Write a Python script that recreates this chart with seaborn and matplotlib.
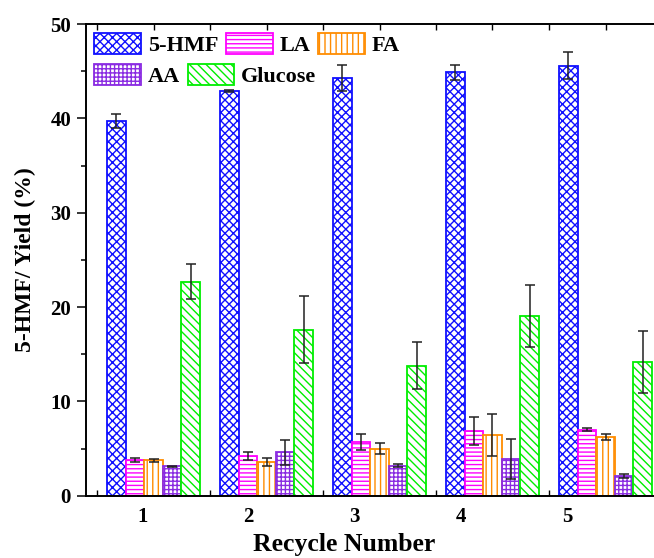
import numpy as np
import pandas as pd
import matplotlib
matplotlib.use("Agg")
import matplotlib.pyplot as plt
from matplotlib.ticker import MultipleLocator, FixedLocator
import seaborn as sns

# Recycle runs and product yields (%)
cycles = ["1", "2", "3", "4", "5"]
compounds = ["5-HMF", "LA", "FA", "AA", "Glucose"]

hmf = [39.7, 42.9, 44.3, 44.9, 45.6]
la = [3.8, 4.2, 5.7, 6.9, 7.0]
fa = [3.75, 3.55, 5.0, 6.45, 6.2]
aa = [3.1, 4.6, 3.2, 3.9, 2.1]
glucose = [22.7, 17.6, 13.8, 19.05, 14.2]

hmf_err = [0.72, 0.15, 1.4, 0.8, 1.4]
la_err = [0.23, 0.46, 0.88, 1.48, 0.18]
fa_err = [0.15, 0.45, 0.62, 2.2, 0.34]
aa_err = [0.05, 1.35, 0.15, 2.1, 0.25]
glucose_err = [1.85, 3.55, 2.5, 3.25, 3.3]

colors = ["#1010ff", "#ff00ff", "#ff8c00", "#8a2be2", "#00ee00"]
hatches = ["xxxx", "----", "|||", "++++", "\\\\\\\\"]

values = [hmf, la, fa, aa, glucose]
errors = [hmf_err, la_err, fa_err, aa_err, glucose_err]

df = pd.DataFrame({
    "Recycle Number": np.tile(cycles, len(compounds)),
    "Compound": np.repeat(compounds, len(cycles)),
    "Yield": np.concatenate(values),
    "Err": np.concatenate(errors),
})

sns.set_style("ticks")
plt.rcParams["font.family"] = ["Liberation Serif", "DejaVu Serif"]
plt.rcParams["font.weight"] = "bold"
plt.rcParams["hatch.linewidth"] = 1.0
for key in ["text.color", "axes.labelcolor", "xtick.color", "ytick.color",
            "axes.edgecolor"]:
    plt.rcParams[key] = "black"

W, H = 654, 558
fig = plt.figure(figsize=(W / 100, H / 100), dpi=100)
ax = fig.add_axes([85.7 / W, (H - 495.7) / H, (662 - 85.7) / W, (495.7 - 24) / H])

sns.barplot(data=df, x="Recycle Number", y="Yield", hue="Compound",
            hue_order=compounds, palette=colors, width=0.82,
            errorbar=None, legend=False, ax=ax, zorder=2)

for cont, col, hat, name in zip(ax.containers, colors, hatches, compounds):
    sub = df[df["Compound"] == name]
    xs, ys = [], []
    for bar in cont.patches:
        bar.set_facecolor("white")
        bar.set_edgecolor(col)
        bar.set_hatch(hat)
        bar.set_linewidth(1.3)
        xs.append(bar.get_x() + bar.get_width() / 2)
        ys.append(bar.get_height())
    ax.errorbar(xs, ys, yerr=sub["Err"].values, fmt="none", ecolor="#222222",
                elinewidth=1.1, capsize=3.6, capthick=1.1, zorder=4)

ax.set_xlim(-0.60, 4.50)
ax.set_ylim(0, 50)

# y axis
ax.yaxis.set_major_locator(MultipleLocator(10))
ax.yaxis.set_minor_locator(MultipleLocator(5))
ax.tick_params(axis="y", which="major", direction="out", length=6.5, width=1.1,
               labelsize=15, pad=4)
ax.tick_params(axis="y", which="minor", direction="out", length=3.5, width=1.1)

# x axis: tick marks every half step, labels under each run
label_pos = [-0.10, 0.84, 1.78, 2.72, 3.66]
ax.xaxis.set_major_locator(FixedLocator(label_pos))
ax.set_xticklabels(cycles)
ax.xaxis.set_minor_locator(MultipleLocator(0.5))
ax.tick_params(axis="x", which="major", length=0, labelsize=15, pad=8)
ax.tick_params(axis="x", which="minor", direction="in", length=4, width=1.0,
               top=True, bottom=True)

for s in ax.spines.values():
    s.set_linewidth(1.4)
    s.set_color("black")
    s.set_visible(True)

ax.set_ylabel("5-HMF/ Yield (%)", fontsize=17, fontweight="bold", labelpad=10)
ax.set_xlabel("Recycle Number", fontsize=18.5, fontweight="bold")
ax.xaxis.set_label_coords(0.448, -0.080)

# two-row legend, each row flowing left to right
leg_kw = dict(frameon=False, handlelength=2.1, handleheight=1.05,
              handletextpad=0.3, columnspacing=0.35, borderaxespad=0,
              borderpad=0, prop={"weight": "bold", "size": 16})
bars_only = [c for c in ax.containers if hasattr(c, "patches")]
leg1 = ax.legend(bars_only[:3], compounds[:3], ncol=3, loc="upper left",
                 bbox_to_anchor=(0.015, 0.980), **leg_kw)
ax.add_artist(leg1)
ax.legend(bars_only[3:5], compounds[3:5], ncol=2, loc="upper left",
          bbox_to_anchor=(0.015, 0.915), **leg_kw)

fig.savefig("out.png", dpi=100)
